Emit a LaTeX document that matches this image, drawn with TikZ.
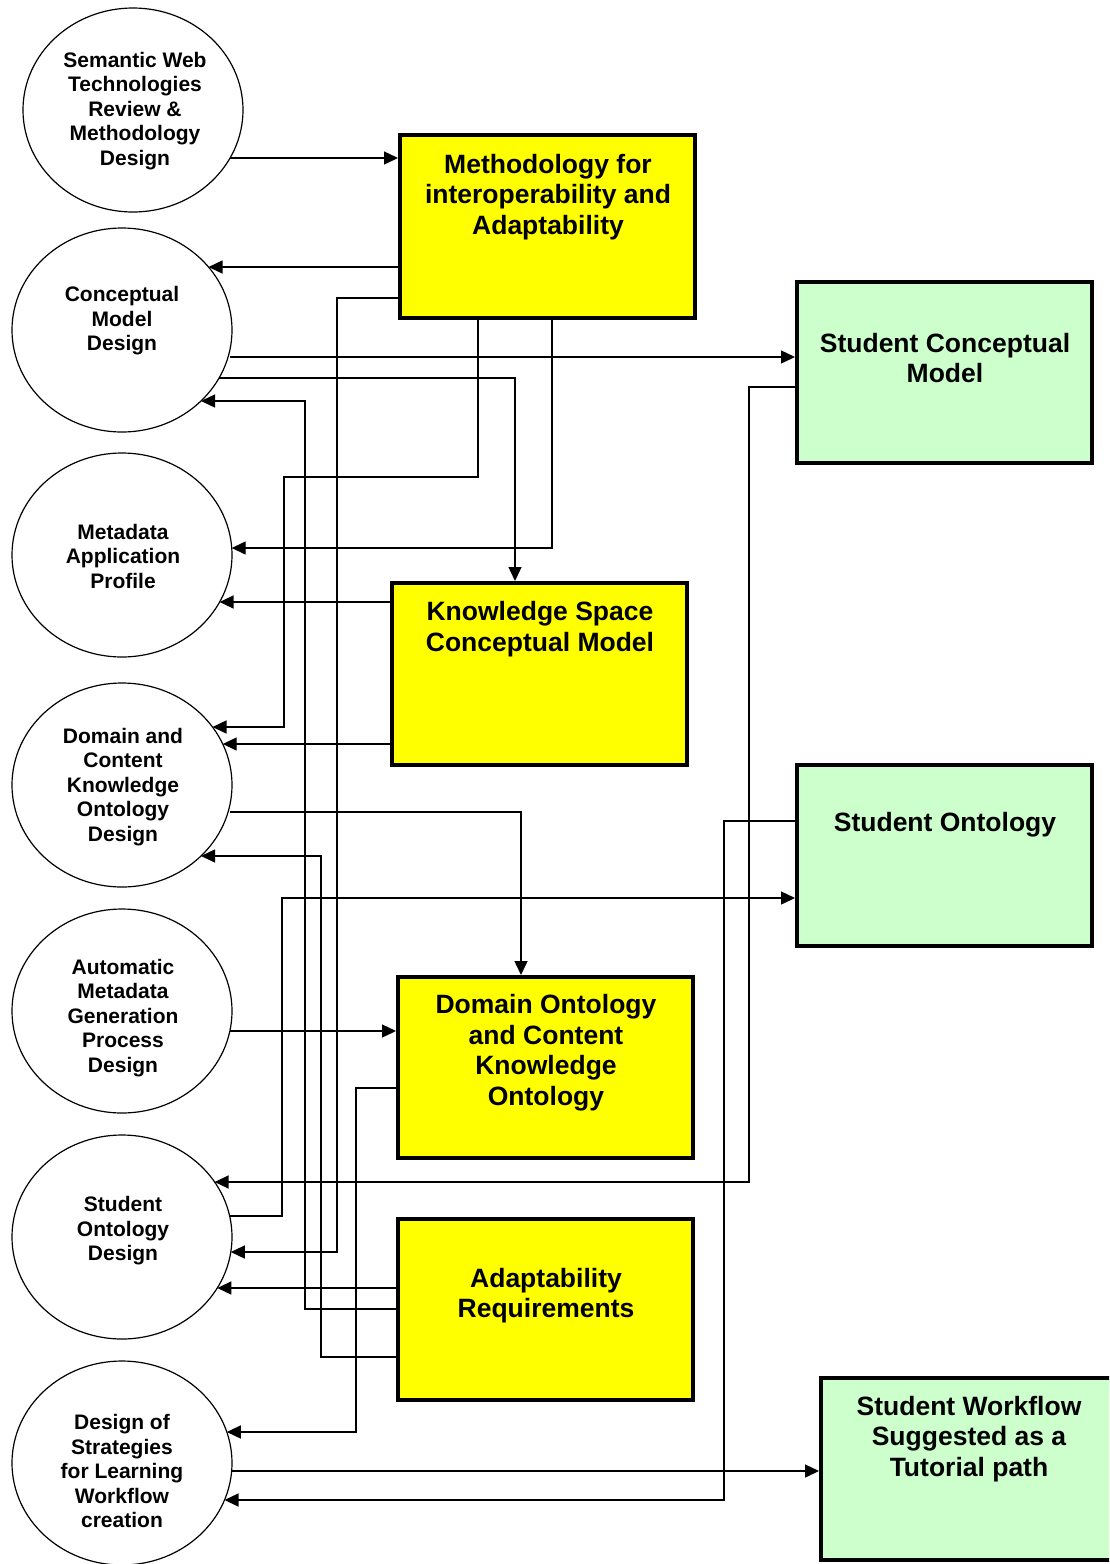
\documentclass[tikz,border=0pt]{standalone}
\usepackage{fontspec}
\setmainfont{Liberation Sans}
\usetikzlibrary{arrows.meta,calc,shapes.geometric}
\definecolor{boxyellow}{HTML}{FFFF00}
\definecolor{boxgreen}{HTML}{CCFFCC}

\begin{document}
\begin{tikzpicture}[x=0.5pt,y=-0.5pt,
  bubble/.style={ellipse,draw,line width=0.6pt,minimum width=110pt,minimum height=102pt,inner sep=0pt},
  ybox/.style={rectangle,draw,line width=2pt,fill=boxyellow,minimum width=147.5pt,minimum height=91pt,inner sep=0pt},
  gbox/.style={rectangle,draw,line width=2pt,fill=boxgreen,minimum width=147.5pt,minimum height=91pt,inner sep=0pt},
  btext/.style={font=\bfseries\fontsize{13.25}{15.25}\selectfont,align=center,inner sep=0pt},
  etext/.style={font=\bfseries\fontsize{10.5}{12.25}\selectfont,align=center,inner sep=0pt},
  link/.style={line width=0.7pt},
  arr/.style={link,-{Triangle[length=7pt,width=6.5pt]}}]

\useasboundingbox (0,0) rectangle (1109,1564);
\clip (0,0) rectangle (1109,1564);

% activity bubbles on the left
\node[bubble] (e1) at (133,110) {};
\node[bubble] (e2) at (122,330) {};
\node[bubble] (e3) at (122,555) {};
\node[bubble] (e4) at (122,785) {};
\node[bubble] (e5) at (122,1011) {};
\node[bubble] (e6) at (122,1237) {};
\node[bubble] (e7) at (122,1463) {};

\node[etext] (t1) at (135,111) {Semantic Web\\Technologies\\Review \&\\Methodology\\Design};
\node[etext] (t2) at (122,321) {Conceptual\\Model\\Design};
\node[etext] (t3) at (123,556) {Metadata\\Application\\Profile};
\node[etext] (t4) at (123,787) {Domain and\\Content\\Knowledge\\Ontology\\Design};
\node[etext] (t5) at (123,1018) {Automatic\\Metadata\\Generation\\Process\\Design};
\node[etext] (t6) at (123,1231) {Student\\Ontology\\Design};
\node[etext] (t7) at (122,1471) {Design of\\Strategies\\for Learning\\Workflow\\creation};

% result boxes
\node[ybox,minimum height=91.5pt] (meth) at (547.5,226.5) {};
\node[ybox] (ks) at (539.5,674) {};
\node[ybox,minimum height=90.5pt] (do) at (545.5,1067.5) {};
\node[ybox,minimum height=90.5pt] (ar) at (545.5,1309.5) {};
\node[gbox,minimum height=90.5pt] (scm) at (944.5,372.5) {};
\node[gbox,minimum height=90.5pt] (so) at (944.5,855.5) {};
\node[gbox] (sw) at (968.5,1469) {};

\node[btext] (tm) at (548,197) {Methodology for\\interoperability and\\Adaptability};
\node[btext] (tk) at (540,629) {Knowledge Space\\Conceptual Model};
\node[btext] (td) at (546,1052.5) {Domain Ontology\\and Content\\Knowledge\\Ontology};
\node[btext] (ta) at (546,1295.5) {Adaptability\\Requirements};
\node[btext] (tc) at (945,358) {Student Conceptual\\Model};
\node[btext] (to) at (945,825) {Student Ontology};
\node[btext] (tw) at (969,1439) {Student Workflow\\Suggested as a\\Tutorial path};

% connectors
\draw[arr] ($(e1.center)+(97,48)$) -- (meth.west |- 0,158);
\draw[arr] (meth.west |- 0,267) -- ($(e2.center)+(86.5,-63)$);
\draw[arr] (meth.west |- 0,298) -- (337,298) |- ($(e6.center)+(108.8,15)$);
\draw[arr] ($(e2.center)+(108,27)$) -- (scm.west |- 0,357);
\draw[arr] ($(e2.center)+(97,48)$) -| (ks.north -| 515,0);
\draw[arr] (ar.west |- 0,1309) -- (305,1309) |- ($(e2.center)+(79,71)$);
\draw[arr] (meth.south -| 478,0) |- (284,477) |- ($(e4.center)+(90.5,-58)$);
\draw[arr] (meth.south -| 552,0) |- ($(e3.center)+(109.7,-7)$);
\draw[arr] (ks.west |- 0,602) -- ($(e3.center)+(97.6,47)$);
\draw[arr] (ks.west |- 0,744) -- ($(e4.center)+(100.7,-41)$);
\draw[arr] ($(e4.center)+(108,27)$) -| (do.north -| 521,0);
\draw[arr] (ar.west |- 0,1357) -- (321,1357) |- ($(e4.center)+(79,71)$);
\draw[arr] ($(e6.center)+(107.6,-21)$) -- (282,1216) |- (so.west |- 0,898);
\draw[arr] ($(e5.center)+(107.9,20)$) -- (do.west |- 0,1031);
\draw[arr] (do.west |- 0,1088) -- (356,1088) |- ($(e7.center)+(104.8,-31)$);
\draw[arr] (scm.west |- 0,387) -- (749,387) |- ($(e6.center)+(92.6,-55)$);
\draw[arr] (so.west |- 0,821) -- (724,821) |- ($(e7.center)+(102.5,37)$);
\draw[arr] ($(e7.center)+(109.7,8)$) -- (sw.west |- 0,1471);
\draw[arr] (ar.west |- 0,1288) -- ($(e6.center)+(95.3,51)$);
\end{tikzpicture}
\end{document}
